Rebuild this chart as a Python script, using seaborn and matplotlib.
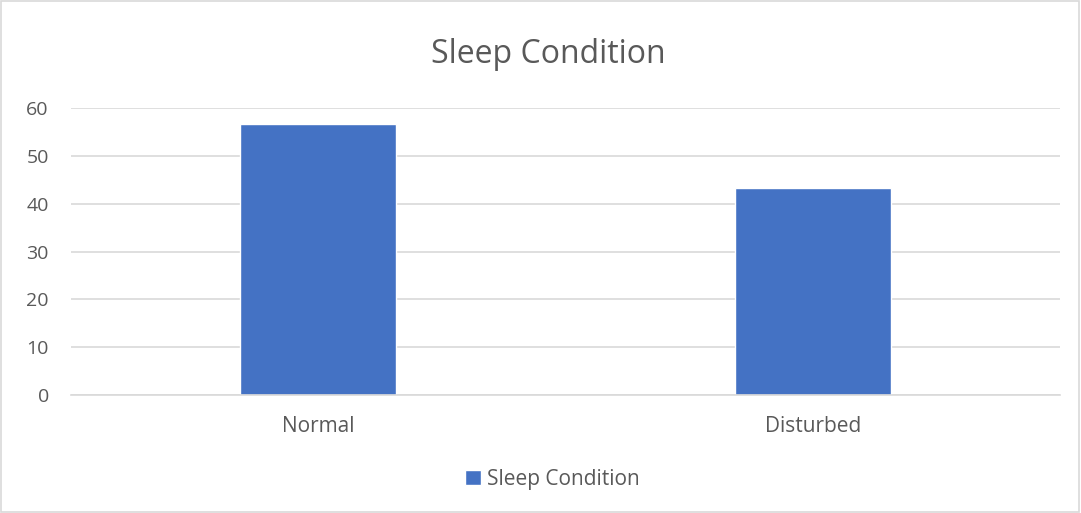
import matplotlib
matplotlib.use("Agg")
import matplotlib.pyplot as plt
import seaborn as sns
import pandas as pd
from matplotlib.patches import Rectangle

categories = ["Normal", "Disturbed"]
values = [56.7, 43.3]
series_name = "Sleep Condition"

df = pd.DataFrame({"cond": categories, "pct": values})

sns.set_theme(style="white")
plt.rcParams["font.family"] = ["Open Sans", "DejaVu Sans"]

fig = plt.figure(figsize=(10.81, 5.13), dpi=100)
ax = fig.add_axes([0.0657, 0.230, 0.915, 0.559])

sns.barplot(data=df, x="cond", y="pct", color="#4472C4", width=0.315,
            saturation=1, ax=ax, label=series_name)

ax.set_ylim(0, 60)
ax.set_yticks(range(0, 61, 10))
ax.set_xlim(-0.5, 1.5)
ax.yaxis.grid(True, color="#d9d9d9", linewidth=1.2)
ax.set_axisbelow(True)
for s in ["top", "right", "left"]:
    ax.spines[s].set_visible(False)
ax.spines["bottom"].set_color("#d9d9d9")
ax.spines["bottom"].set_linewidth(1.2)
ax.tick_params(axis="both", length=0, labelcolor="#595959")
ax.tick_params(axis="y", pad=16, labelsize=14)
ax.tick_params(axis="x", pad=15, labelsize=15)
ax.set_xlabel("")
ax.set_ylabel("")

fig.text(0.507, 0.893, series_name, ha="center", va="center", fontsize=23, color="#595959")

if ax.get_legend():
    ax.get_legend().remove()
h, l = ax.get_legend_handles_labels()
fig.legend(h, l, loc="center", bbox_to_anchor=(0.511, 0.066), frameon=False, fontsize=15,
           labelcolor="#595959", handlelength=0.75, handleheight=0.75, handletextpad=0.3)

fig.patches.append(Rectangle((0.001, 0.001), 0.997, 0.997, transform=fig.transFigure,
                             fill=False, edgecolor="#d9d9d9", linewidth=1.2))

fig.savefig("out.png", dpi=100)
